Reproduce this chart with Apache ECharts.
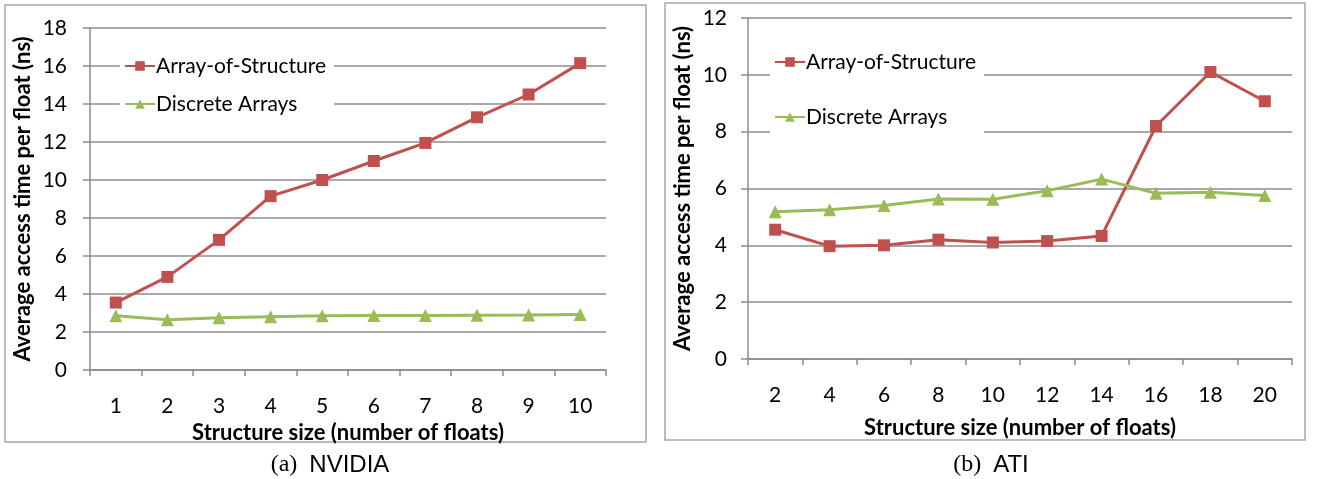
<!DOCTYPE html>
<html>
<head>
<meta charset="utf-8">
<script src="https://cdn.jsdelivr.net/npm/echarts@6/dist/echarts.min.js"></script>
<style>
html,body{margin:0;padding:0;background:#fff;}
#c{width:1317px;height:479px;}
</style>
</head>
<body>
<div id="c"></div>
<script>
// ---- data ----
const nvidiaSizes = ['1','2','3','4','5','6','7','8','9','10'];
const nvidiaAoS   = [3.55, 4.9, 6.85, 9.15, 10.0, 11.0, 11.95, 13.3, 14.5, 16.15];
const nvidiaDA    = [2.85, 2.65, 2.75, 2.8, 2.85, 2.87, 2.87, 2.88, 2.89, 2.92];
const atiSizes    = ['2','4','6','8','10','12','14','16','18','20'];
const atiAoS      = [4.55, 3.97, 4.0, 4.2, 4.1, 4.15, 4.33, 8.2, 10.1, 9.07];
const atiDA       = [5.18, 5.25, 5.4, 5.63, 5.62, 5.92, 6.33, 5.83, 5.87, 5.75];
const seriesNames = ['Array-of-Structure', 'Discrete Arrays'];
const xTitle = 'Structure size (number of floats)';
const yTitle = 'Average access time per float (ns)';
const captions = [['(a)', 'NVIDIA'], ['(b)', 'ATI']];

const RED = '#C0504D', GREEN = '#9BBB59', GRID = '#8c8c8c';
const FONT = 'Lato';

function xAx(idx, data, gap) {
  return {
    type: 'category', gridIndex: idx, data: data, boundaryGap: true,
    axisLine: {lineStyle: {color: GRID, width: 1.5}},
    axisTick: {show: true, length: 6, lineStyle: {color: GRID, width: 1.5}},
    axisLabel: {color: '#000', fontFamily: FONT, fontSize: 21, margin: 26},
    name: xTitle, nameLocation: 'middle', nameGap: gap,
    nameTextStyle: {color: '#000', fontFamily: FONT, fontWeight: 'bold', fontSize: 22}
  };
}
function yAx(idx, max, gap, lm) {
  return {
    type: 'value', gridIndex: idx, min: 0, max: max, interval: 2,
    axisLine: {show: true, lineStyle: {color: GRID, width: 1.5}},
    axisTick: {show: true, length: 7, lineStyle: {color: GRID, width: 1.5}},
    splitLine: {show: true, lineStyle: {color: GRID, width: 1.5}},
    axisLabel: {color: '#000', fontFamily: FONT, fontSize: 21, margin: lm},
    name: yTitle, nameLocation: 'middle', nameGap: gap, nameRotate: 90,
    nameTextStyle: {color: '#000', fontFamily: FONT, fontWeight: 'bold', fontSize: 22}
  };
}
function ser(name, idx, data, color, symbol) {
  return {
    type: 'line', name: name, xAxisIndex: idx, yAxisIndex: idx, data: data,
    symbol: symbol, symbolSize: symbol === 'rect' ? 12 : 13,
    showSymbol: true,
    lineStyle: {color: color, width: 3},
    itemStyle: {color: color},
    emphasis: {disabled: true}, animation: false
  };
}
function legend(left, top, gap) {
  return {
    orient: 'vertical', left: left, top: top, itemGap: gap,
    itemWidth: 30, itemHeight: 12,
    backgroundColor: '#fff', padding: [6, 8, 6, 4],
    textStyle: {color: '#000', fontFamily: FONT, fontSize: 21, lineHeight: 24, padding: [0, 0, 0, -4]},
    data: seriesNames, selectedMode: false
  };
}
function caption(x, c) {
  return {type: 'text', x: x, y: 465, style: {
    text: '{s|' + c[0] + '}{n|' + c[1] + '}', align: 'center', verticalAlign: 'middle',
    rich: {s: {fontFamily: 'Liberation Serif', fontSize: 24, fill: '#000', padding: [0, 12, 0, 0]},
           n: {fontFamily: 'Liberation Sans', fontSize: 24, fill: '#000'}}
  }};
}

const chart = echarts.init(document.getElementById('c'), null, {renderer: 'canvas'});
chart.setOption({
  animation: false,
  grid: [
    {left: 90, top: 28, width: 516, height: 342},
    {left: 748, top: 18, width: 544, height: 341}
  ],
  xAxis: [xAx(0, nvidiaSizes, 49), xAx(1, atiSizes, 58)],
  yAxis: [yAx(0, 18, 56, 23), yAx(1, 12, 54, 21)],
  legend: [legend(120, 48, 14), legend(770, 44, 31)],
  series: [
    ser(seriesNames[0], 0, nvidiaAoS, RED, 'rect'),
    ser(seriesNames[1], 0, nvidiaDA, GREEN, 'triangle'),
    ser(seriesNames[0], 1, atiAoS, RED, 'rect'),
    ser(seriesNames[1], 1, atiDA, GREEN, 'triangle')
  ],
  graphic: [
    {type: 'rect', shape: {x: 5, y: 5, width: 641, height: 437}, style: {fill: null, stroke: '#a6a6a6', lineWidth: 1.5}, z: -1},
    {type: 'rect', shape: {x: 665, y: 3, width: 640, height: 437}, style: {fill: null, stroke: '#a6a6a6', lineWidth: 1.5}, z: -1},
    caption(330, captions[0]),
    caption(991, captions[1])
  ]
});
</script>
</body>
</html>
